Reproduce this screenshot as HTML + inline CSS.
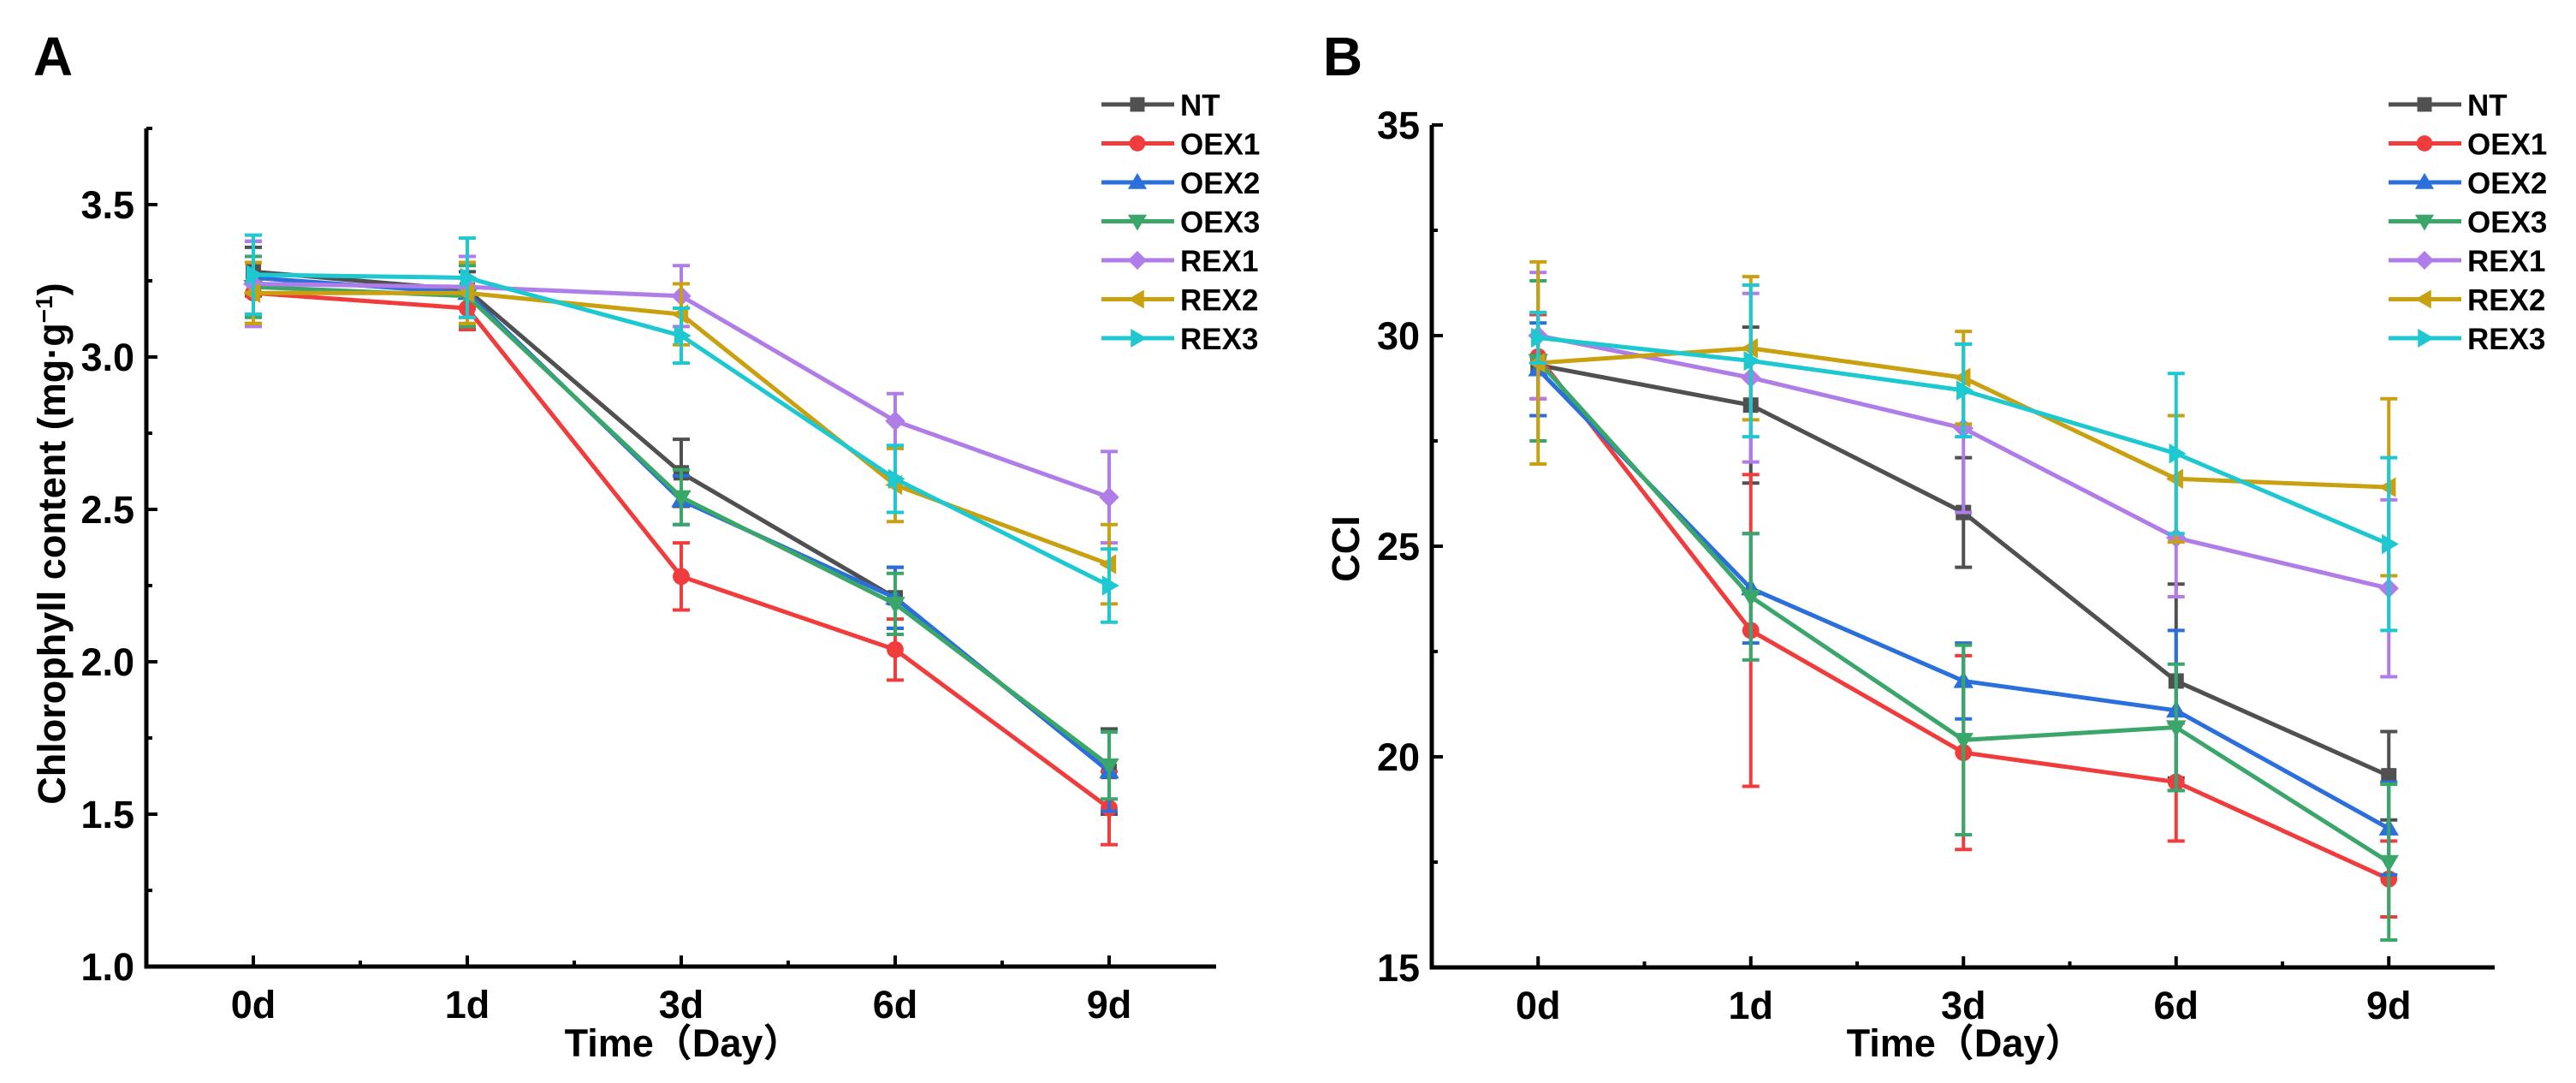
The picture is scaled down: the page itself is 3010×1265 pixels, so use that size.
<!DOCTYPE html>
<html><head><meta charset="utf-8"><style>
html,body{margin:0;padding:0;background:#fff;}
svg{display:block;font-family:"Liberation Sans","Noto Sans CJK SC",sans-serif;font-weight:bold;}
</style></head><body>
<svg id="fig" width="3010" height="1265" viewBox="0 0 3010 1265"></svg>
<script>
const categories = ["0d","1d","3d","6d","9d"];
const seriesNames = ["NT","OEX1","OEX2","OEX3","REX1","REX2","REX3"];
const colors = ["#505050","#f03c3c","#2a6fdb","#3aa66a","#b07de8","#c9a010","#1ec8d0"];
const markers = ["square","circle","up","down","diamond","left","right"];
const chlNT = [3.28,3.22,2.62,2.21,1.64];
const chlOEX1 = [3.21,3.16,2.28,2.04,1.52];
const chlOEX2 = [3.26,3.21,2.53,2.21,1.64];
const chlOEX3 = [3.23,3.20,2.54,2.19,1.66];
const chlREX1 = [3.24,3.23,3.20,2.79,2.54];
const chlREX2 = [3.21,3.21,3.14,2.58,2.32];
const chlREX3 = [3.27,3.26,3.07,2.60,2.25];
const chlErrNT = [0.08,0.06,0.11,0.10,0.14];
const chlErrOEX1 = [0.10,0.07,0.11,0.10,0.12];
const chlErrOEX2 = [0.12,0.10,0.08,0.10,0.13];
const chlErrOEX3 = [0.10,0.10,0.09,0.10,0.11];
const chlErrREX1 = [0.14,0.10,0.10,0.09,0.15];
const chlErrREX2 = [0.10,0.10,0.10,0.12,0.13];
const chlErrREX3 = [0.13,0.13,0.09,0.11,0.12];
const cciNT = [29.3,28.35,25.8,21.8,19.55];
const cciOEX1 = [29.5,23.0,20.1,19.4,17.1];
const cciOEX2 = [29.2,24.0,21.8,21.1,18.3];
const cciOEX3 = [29.4,23.8,20.4,20.7,17.5];
const cciREX1 = [30.0,29.0,27.8,25.2,24.0];
const cciREX2 = [29.35,29.7,29.0,26.6,26.4];
const cciREX3 = [29.95,29.4,28.7,27.2,25.05];
const cciErrNT = [1.2,1.85,1.3,2.3,1.05];
const cciErrOEX1 = [1.0,3.7,2.3,1.4,0.9];
const cciErrOEX2 = [1.1,1.3,0.9,1.9,1.1];
const cciErrOEX3 = [1.9,1.5,2.25,1.5,1.85];
const cciErrREX1 = [1.5,2.0,2.0,1.4,2.1];
const cciErrREX2 = [2.4,1.7,1.1,1.5,2.1];
const cciErrREX3 = [0.6,1.8,1.1,1.9,2.05];
const chlTicks = ["1.0","1.5","2.0","2.5","3.0","3.5"];
const cciTicks = ["15","20","25","30","35"];

const NS="http://www.w3.org/2000/svg";
const svg=document.getElementById('fig');
function mk(tag,attrs,parent){const e=document.createElementNS(NS,tag);for(const k in attrs)e.setAttribute(k,attrs[k]);(parent||svg).appendChild(e);return e;}

function marker(g,type,cx,cy,s,col){
  let e;
  if(type==="square") e=mk('rect',{x:cx-s*0.5,y:cy-s*0.5,width:s,height:s,fill:col},g);
  else if(type==="circle") e=mk('circle',{cx:cx,cy:cy,r:s*0.55,fill:col},g);
  else {
    let p;const r=s*0.65;
    if(type==="up") p=[[cx,cy-r],[cx+r,cy+r*0.7],[cx-r,cy+r*0.7]];
    if(type==="down") p=[[cx,cy+r],[cx+r,cy-r*0.7],[cx-r,cy-r*0.7]];
    if(type==="diamond") p=[[cx,cy-r],[cx+r,cy],[cx,cy+r],[cx-r,cy]];
    if(type==="left") p=[[cx-r,cy],[cx+r*0.7,cy-r],[cx+r*0.7,cy+r]];
    if(type==="right") p=[[cx+r,cy],[cx-r*0.7,cy-r],[cx-r*0.7,cy+r]];
    e=mk('polygon',{points:p.map(q=>q.join(',')).join(' '),fill:col},g);
  }
  return e;
}

function panel(o){
  const g=mk('g',{});
  
  
  const xs=i=>o.x0+o.dx*(i+0.5);
  const ys=v=>o.yBottom-(v-o.vmin)/(o.vmax-o.vmin)*(o.yBottom-o.yTop);
  o.data.forEach((vals,si)=>{
    const sg=mk('g',{},g);
    
    
    const col=colors[si];
    const errs=o.errs[si];
    vals.forEach((v,i)=>{
      const x=xs(i),y1=ys(v+errs[i]),y2=ys(v-errs[i]);
      const eb=mk('path',{d:`M${x},${y1}V${y2}M${x-10},${y1}H${x+10}M${x-10},${y2}H${x+10}`,stroke:col,'stroke-width':4,fill:'none'},sg);
      
      
    });
    const ln=mk('polyline',{points:vals.map((v,i)=>xs(i)+','+ys(v)).join(' '),stroke:col,'stroke-width':5,fill:'none','stroke-linejoin':'round'},sg);
    
    
    vals.forEach((v,i)=>{
      const m=marker(sg,markers[si],xs(i),ys(v),18,col);
      
      
    });
  });
  const ax=mk('path',{d:`M${o.x0},${o.yTop}V${o.yBottom}H${o.x1}`,stroke:'#000','stroke-width':5,fill:'none'},g);
  
  
  let d='';
  categories.forEach((c,i)=>{
    d+=`M${xs(i)},${o.yBottom}v-13`;
    if(i<categories.length-1) d+=`M${xs(i)+o.dx/2},${o.yBottom}v-7`;
    const t=mk('text',{x:xs(i),y:o.yBottom+60,'text-anchor':'middle','font-size':45},g);
    t.textContent=c;
    
    
  });
  o.ticks.forEach((lab,i)=>{
    const v=parseFloat(lab),y=ys(v);
    d+=`M${o.x0},${y}h13`;
    const mv=v+o.step/2;
    if(mv<=o.vmax+1e-9) d+=`M${o.x0},${ys(mv)}h7`;
    const t=mk('text',{x:o.x0-14,y:y+16,'text-anchor':'end','font-size':45},g);
    t.textContent=lab;
    
    
  });
  mk('path',{d:d,stroke:'#000','stroke-width':4,fill:'none'},g);
  const xt=mk('text',{x:(o.x0+o.x1)/2+2,y:1234,'text-anchor':'middle','font-size':45},g);
  xt.textContent='Time（Day）';
  
  
  const yt=mk('text',{x:0,y:0,'text-anchor':'middle','font-size':45,transform:`translate(${o.ytx},${o.yty}) rotate(-90)`},g);
  yt.innerHTML=o.ytitle;
  
  
  const pl=mk('text',{x:o.lx,y:88,'text-anchor':'middle','font-size':64},g);
  pl.textContent=o.label;
  
  
  const lg=mk('g',{},g);
  
  
  seriesNames.forEach((n,i)=>{
    const y=122+i*45.5;
    const eg=mk('g',{},lg);
    
    
    mk('line',{x1:o.legX,x2:o.legX+85,y1:y,y2:y,stroke:colors[i],'stroke-width':5},eg);
    marker(eg,markers[i],o.legX+42,y,17,colors[i]);
    const t=mk('text',{x:o.legX+92,y:y+13,'font-size':35},eg);
    t.textContent=n;
  });
}

panel({name:'panel-a-chlorophyll',label:'A',lx:62,x0:171,x1:1421,dx:250,yTop:150,yBottom:1129,vmin:1.0,vmax:3.75,step:0.5,
  ticks:chlTicks,data:[chlNT,chlOEX1,chlOEX2,chlOEX3,chlREX1,chlREX2,chlREX3],
  errs:[chlErrNT,chlErrOEX1,chlErrOEX2,chlErrOEX3,chlErrREX1,chlErrREX2,chlErrREX3],
  ytitle:'Chlorophyll content (mg·g<tspan baseline-shift="super" font-size="28">−1</tspan>)',ytx:76,yty:635,legX:1287});
panel({name:'panel-b-cci',label:'B',lx:1569,x0:1673,x1:2915,dx:248.5,yTop:146,yBottom:1130,vmin:15,vmax:35,step:5,
  ticks:cciTicks,data:[cciNT,cciOEX1,cciOEX2,cciOEX3,cciREX1,cciREX2,cciREX3],
  errs:[cciErrNT,cciErrOEX1,cciErrOEX2,cciErrOEX3,cciErrREX1,cciErrREX2,cciErrREX3],
  ytitle:'CCI',ytx:1588,yty:641,legX:2791});
</script>
</body></html>
